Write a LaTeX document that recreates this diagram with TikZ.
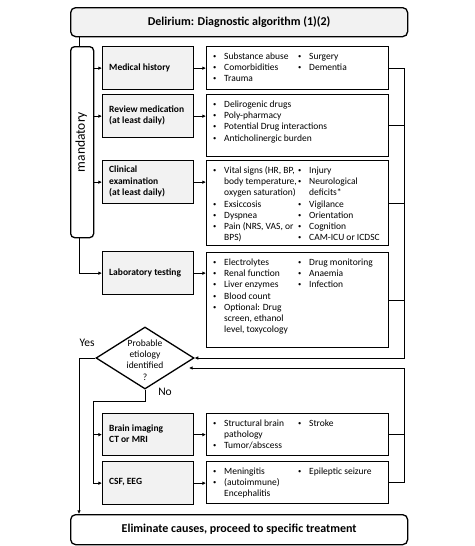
\documentclass[tikz,border=0pt]{standalone}
\usepackage{fontspec}
\setmainfont{Carlito}
\usetikzlibrary{arrows.meta,shapes.geometric}
\newcommand{\lf}{\fontsize{9.5}{11.3}\selectfont}
\newcommand{\bfl}{\fontsize{9.5}{11.3}\selectfont\bfseries}
\newcommand{\bt}{\raisebox{1pt}{\fontsize{6.5}{8}\selectfont\textbullet}}
\newcommand{\Ra}[4]{\makebox[11pt][l]{#1}&\makebox[74pt][l]{#2}&\makebox[11pt][l]{#3}&#4\\}
\tikzset{
  frame/.style={draw=black, line width=1.3pt, inner sep=0pt, anchor=north west},
  graybox/.style={frame, fill=black!5},
  listbox/.style={frame, fill=white},
  rbox/.style={frame, rounded corners=5pt},
  grtxt/.style={anchor=west, align=left, inner sep=0pt, font=\bfl},
  lsttxt/.style={anchor=north west, inner sep=0pt, font=\lf},
  conn/.style={line width=0.9pt},
  arr/.style={conn, -{Latex[length=3.6pt,width=3.6pt]}},
}
\begin{document}
\begin{tikzpicture}[x=1pt,y=-1pt]
\useasboundingbox (0,0) rectangle (474,546);
\coordinate (trunk) at (79,0);
\coordinate (bus) at (404,0);
\coordinate (nob) at (93,401);
\coordinate (tip2) at (189,368);

% title and end
\node[rbox, fill=black!5, minimum width=337pt, minimum height=29pt] (top) at (70,7) {};
\node[font=\fontsize{12}{14}\selectfont\bfseries] (toptxt) at (top.center) {Delirium: Diagnostic algorithm (1)(2)};
\node[rbox, fill=white, minimum width=337pt, minimum height=30pt] (bot) at (70,514) {};
\node[font=\fontsize{12}{14}\selectfont\bfseries] (bottxt) at (bot.center) {Eliminate causes, proceed to specific treatment};

% mandatory
\node[rbox, rounded corners=4pt, fill=white, minimum width=23pt, minimum height=191pt] (mand) at (70,46) {};
\node[rotate=90, inner sep=0pt, font=\fontsize{13.5}{16}\selectfont] (mandtxt) at ([xshift=-1pt]mand.center) {mandatory};

% gray boxes
\node[graybox, minimum width=91pt, minimum height=43pt] (mh) at (102,46) {};
\node[graybox, minimum width=91pt, minimum height=43pt] (rm) at (102,94) {};
\node[graybox, minimum width=91pt, minimum height=43pt] (ce) at (102,160) {};
\node[graybox, minimum width=91pt, minimum height=43pt] (lt) at (102,251) {};
\node[graybox, minimum width=91pt, minimum height=42pt] (bi) at (102,413) {};
\node[graybox, minimum width=91pt, minimum height=43pt] (csf) at (102,461) {};

\node[grtxt] (mht) at (109,68) {Medical history};
\node[grtxt] (rmt) at (109,115.5) {Review medication\\(at least daily)};
\node[grtxt] (cet) at (109,181.5) {Clinical\\examination\\(at least daily)};
\node[grtxt] (ltt) at (109,272.5) {Laboratory testing};
\node[grtxt] (bit) at (109,434) {Brain imaging\\CT or MRI};
\node[grtxt] (csft) at (109,482.5) {CSF, EEG};

% list boxes
\node[listbox, minimum width=182pt, minimum height=43pt] (mhl) at (206,46) {};
\node[listbox, minimum width=182pt, minimum height=62pt] (rml) at (206,94) {};
\node[listbox, minimum width=182pt, minimum height=85pt] (cel) at (206,160) {};
\node[listbox, minimum width=182pt, minimum height=95pt] (ltl) at (206,252) {};
\node[listbox, minimum width=182pt, minimum height=42pt] (bil) at (206,413) {};
\node[listbox, minimum width=182pt, minimum height=42pt] (csfl) at (206,461) {};

\node[lsttxt] (mhx) at (213,51) {\begin{tabular}{@{}l@{}l@{}l@{}l@{}}
\Ra{\bt}{Substance abuse}{\bt}{Surgery}
\Ra{\bt}{Comorbidities}{\bt}{Dementia}
\Ra{\bt}{Trauma}{}{}
\end{tabular}};
\node[lsttxt] (rmx) at (213,99) {\begin{tabular}{@{}l@{}l@{}}
\makebox[11pt][l]{\bt} & Delirogenic drugs\\
\makebox[11pt][l]{\bt} & Poly-pharmacy\\
\makebox[11pt][l]{\bt} & Potential Drug interactions\\
\makebox[11pt][l]{\bt} & Anticholinergic burden\\
\end{tabular}};
\node[lsttxt] (cex) at (213,165) {\begin{tabular}{@{}l@{}l@{}l@{}l@{}}
\Ra{\bt}{Vital signs (HR, BP,}{\bt}{Injury}
\Ra{}{body temperature,}{\bt}{Neurological}
\Ra{}{oxygen saturation)}{}{deficits*}
\Ra{\bt}{Exsiccosis}{\bt}{Vigilance}
\Ra{\bt}{Dyspnea}{\bt}{Orientation}
\Ra{\bt}{Pain (NRS, VAS, or}{\bt}{Cognition}
\Ra{}{BPS)}{\bt}{CAM-ICU or ICDSC}
\end{tabular}};
\node[lsttxt] (ltx) at (213,257) {\begin{tabular}{@{}l@{}l@{}l@{}l@{}}
\Ra{\bt}{Electrolytes}{\bt}{Drug monitoring}
\Ra{\bt}{Renal function}{\bt}{Anaemia}
\Ra{\bt}{Liver enzymes}{\bt}{Infection}
\Ra{\bt}{Blood count}{}{}
\Ra{\bt}{Optional: Drug}{}{}
\Ra{}{screen, ethanol}{}{}
\Ra{}{level, toxycology}{}{}
\end{tabular}};
\node[lsttxt] (bix) at (213,418) {\begin{tabular}{@{}l@{}l@{}l@{}l@{}}
\Ra{\bt}{Structural brain}{\bt}{Stroke}
\Ra{}{pathology}{}{}
\Ra{\bt}{Tumor/abscess}{}{}
\end{tabular}};
\node[lsttxt] (csfx) at (213,466) {\begin{tabular}{@{}l@{}l@{}l@{}l@{}}
\Ra{\bt}{Meningitis}{\bt}{Epileptic seizure}
\Ra{\bt}{(autoimmune)}{}{}
\Ra{}{Encephalitis}{}{}
\end{tabular}};

% diamond
\node[draw, line width=1.3pt, shape=diamond, minimum width=98pt, minimum height=62pt, inner sep=0pt] (dia) at (145,358) {};
\node[align=center, inner sep=0pt, font=\fontsize{9.5}{11.2}\selectfont] (diat) at (145,360) {Probable\\etiology\\identified\\?};
\node[inner sep=0pt, font=\fontsize{11.5}{13}\selectfont] (yes) at (87,343) {Yes};
\node[inner sep=0pt, font=\fontsize{11.5}{13}\selectfont] (no) at (165,392) {No};

% connectors
\draw[conn] (top.south -| trunk) -- (mand.north -| trunk);
\draw[arr] (mand.east |- mh.west) -- (mh.west);
\draw[arr] (mand.east |- rm.west) -- (rm.west);
\draw[arr] (mand.east |- ce.west) -- (ce.west);
\draw[arr] (mand.south -| trunk) |- (lt.west);
\draw[arr] (mh.east) -- (mh.east -| mhl.west);
\draw[arr] (rm.east) -- (rm.east -| rml.west);
\draw[arr] (ce.east) -- (ce.east -| cel.west);
\draw[arr] (lt.east) -- (lt.east -| ltl.west);
\draw[arr] (bi.east) -- (bi.east -| bil.west);
\draw[arr] (csf.east) -- (csf.east -| csfl.west);

\draw[conn] (rml.east) -- (rml.east -| bus);
\draw[conn] (cel.east) -- (cel.east -| bus);
\draw[conn] (ltl.east) -- (ltl.east -| bus);
\draw[arr] (mhl.east) -| (dia.east -| bus) -- (dia.east);

\draw[arr] (dia.west) -| (bot.north -| trunk);
\draw[conn] (dia.south) |- (nob);
\draw[arr] (nob) |- (csf.west);
\draw[arr] (nob |- bi.west) -- (bi.west);

\draw[conn] (bil.east) -- (bil.east -| bus);
\draw[arr] (csfl.east) -| (tip2 -| bus) -- (tip2);
\end{tikzpicture}
\end{document}
